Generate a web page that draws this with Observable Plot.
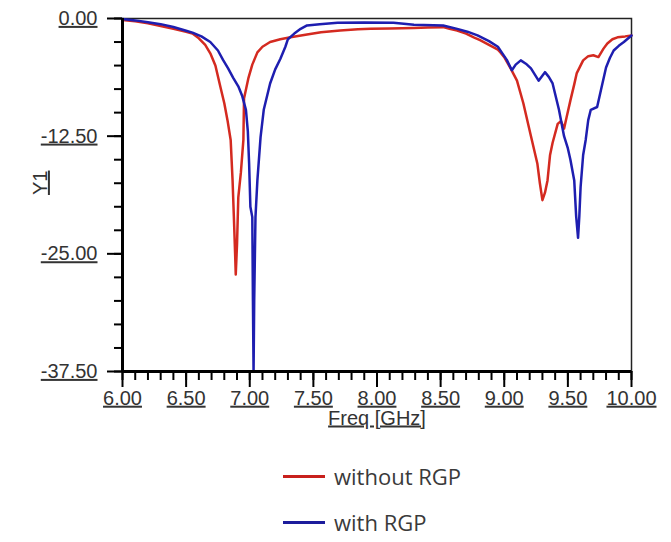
<!DOCTYPE html>
<html>
<head>
<meta charset="utf-8">
<script src="https://cdn.jsdelivr.net/npm/d3@7"></script>
<script src="https://cdn.jsdelivr.net/npm/@observablehq/plot@0.6"></script>
<style>
  html, body { margin: 0; padding: 0; background: #fff; }
  #wrap { position: relative; width: 671px; height: 542px; overflow: hidden; }
  #chart svg text { text-decoration: underline; }
  .leg { position: absolute; left: 283px; display: flex; align-items: center; font-family: "Open Sans", sans-serif; font-size: 22px; color: #3a3a3a; }
  .leg .sw { width: 42px; height: 3px; margin-right: 9px; }
</style>
</head>
<body>
<div id="wrap">
  <div id="chart"></div>
  <div class="leg" style="top:461px"><div class="sw" style="background:#c8201c"></div><span>without RGP</span></div>
  <div class="leg" style="top:507px"><div class="sw" style="background:#1c1c9c"></div><span>with RGP</span></div>
</div>
<script>
// Series: without RGP (red)
const freqRed = [6.00,6.10,6.20,6.30,6.40,6.50,6.55,6.60,6.65,6.69,6.73,6.77,6.80,6.825,6.85,6.865,6.875,6.885,6.89,6.90,6.91,6.93,6.95,6.955,6.99,7.02,7.06,7.10,7.16,7.24,7.32,7.45,7.56,7.71,7.85,7.95,8.10,8.29,8.40,8.52,8.57,8.63,8.70,8.76,8.81,8.88,8.95,8.97,9.00,9.05,9.10,9.15,9.21,9.26,9.28,9.30,9.32,9.34,9.36,9.38,9.42,9.445,9.47,9.49,9.52,9.55,9.57,9.62,9.66,9.70,9.74,9.78,9.81,9.85,9.89,9.95,10.00];
const valRed = [-0.15,-0.3,-0.5,-0.8,-1.1,-1.4,-1.6,-2.1,-2.8,-3.7,-5.0,-7.3,-9.0,-10.8,-12.9,-17.2,-21.0,-25.0,-27.2,-24.0,-19.0,-16.4,-12.9,-8.5,-6.3,-4.9,-3.6,-3.0,-2.5,-2.2,-2.0,-1.7,-1.45,-1.27,-1.15,-1.1,-1.05,-1.0,-0.95,-0.92,-1.1,-1.27,-1.6,-2.0,-2.3,-2.8,-3.3,-3.6,-4.1,-5.3,-6.6,-9.0,-12.5,-15.4,-17.5,-19.3,-18.5,-17.2,-14.5,-13.2,-11.2,-10.9,-11.7,-10.5,-8.7,-7.0,-5.8,-4.45,-4.0,-3.9,-4.1,-3.2,-2.65,-2.2,-2.0,-1.9,-1.8];

// Series: with RGP (blue)
const freqBlue = [6.00,6.10,6.20,6.30,6.40,6.50,6.55,6.62,6.69,6.75,6.79,6.83,6.87,6.91,6.94,6.97,6.985,6.995,7.005,7.02,7.025,7.03,7.035,7.045,7.06,7.085,7.11,7.16,7.20,7.24,7.28,7.30,7.35,7.40,7.45,7.55,7.69,7.90,8.13,8.29,8.52,8.63,8.71,8.79,8.88,8.95,8.98,9.02,9.06,9.09,9.13,9.17,9.21,9.27,9.32,9.35,9.38,9.43,9.47,9.50,9.52,9.55,9.565,9.58,9.59,9.60,9.62,9.64,9.66,9.68,9.73,9.76,9.80,9.83,9.86,9.90,9.94,10.00];
const valBlue = [-0.05,-0.2,-0.4,-0.6,-0.9,-1.3,-1.5,-1.9,-2.5,-3.4,-4.4,-5.3,-6.3,-7.2,-8.2,-9.7,-12.0,-15.4,-20.0,-21.1,-30.0,-37.5,-30.0,-21.1,-17.2,-12.6,-9.7,-6.9,-5.4,-4.3,-3.0,-2.2,-1.6,-1.1,-0.74,-0.6,-0.46,-0.42,-0.46,-0.67,-0.74,-1.1,-1.4,-1.8,-2.4,-3.0,-3.6,-4.4,-5.5,-4.9,-4.45,-4.8,-5.3,-6.6,-5.7,-6.2,-6.9,-9.7,-12.5,-13.8,-15.0,-17.2,-21.0,-23.3,-21.0,-17.9,-14.5,-12.9,-10.8,-9.7,-9.4,-7.6,-5.2,-4.2,-3.4,-2.9,-2.5,-1.8];

// Axis ticks
const xMajorTicks = [6.0,6.5,7.0,7.5,8.0,8.5,9.0,9.5,10.0];
const yMajorTicks = [0,-12.5,-25,-37.5];
const xTitle = "Freq [GHz]";
const yTitle = "Y1";

const red = freqRed.map((f, i) => ({f, v: valRed[i]}));
const blue = freqBlue.map((f, i) => ({f, v: valBlue[i]}));
const xMinor = d3.range(0, 41).map(i => 6 + i * 0.1);
const yMinor = d3.range(0, 16).map(i => -i * 2.5);

const chart = Plot.plot({
  width: 671,
  height: 440,
  marginLeft: 122,
  marginRight: 40,
  marginTop: 18,
  marginBottom: 69,
  x: {domain: [6, 10]},
  y: {domain: [-37.5, 0]},
  style: {fontFamily: "'Liberation Sans', Arial, sans-serif", fontSize: "20px", color: "#333", background: "#fff", overflow: "visible"},
  marks: [
    Plot.frame({stroke: "#222", strokeWidth: 1.5}),
    Plot.line(red, {x: "f", y: "v", stroke: "#d42a20", strokeWidth: 2.5}),
    Plot.line(blue, {x: "f", y: "v", stroke: "#1e1eb0", strokeWidth: 2.5}),
    Plot.axisX(xMinor, {tickSize: 9, tickFormat: () => "", label: null, stroke: "#000", strokeWidth: 2}),
    Plot.axisX(xMajorTicks, {tickSize: 16, tickPadding: 3, tickFormat: d => d.toFixed(2), label: null, stroke: "#000", strokeWidth: 2, fill: "#333"}),
    Plot.axisY(yMinor, {tickSize: 8, tickFormat: () => "", label: null, stroke: "#000", strokeWidth: 2}),
    Plot.axisY(yMajorTicks, {tickSize: 15, tickPadding: 10, tickFormat: d => d.toFixed(2), label: null, stroke: "#000", strokeWidth: 2, fill: "#333"}),
    Plot.ruleX([6], {stroke: "#000", strokeWidth: 3}),
    Plot.ruleY([-37.5], {stroke: "#000", strokeWidth: 3}),
    Plot.text([xTitle], {frameAnchor: "bottom", dy: 53, fill: "#333", fontSize: 20}),
    Plot.text([yTitle], {frameAnchor: "left", dx: -82, rotate: -90, fill: "#333", fontSize: 20})
  ]
});
document.getElementById("chart").appendChild(chart);
</script>
</body>
</html>
